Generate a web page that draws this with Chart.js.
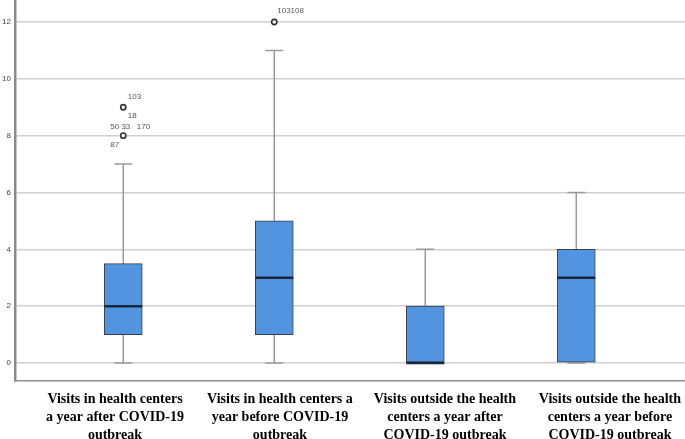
<!DOCTYPE html>
<html><head><meta charset="utf-8">
<script src="https://cdn.jsdelivr.net/npm/chart.js@4/dist/chart.umd.min.js"></script>
<style>html,body{margin:0;padding:0;background:#fff}#wrap{width:685px;height:439px;position:relative}</style>
</head><body><div id="wrap"><canvas id="c"></canvas></div>
<script>
const categories = [
  ["Visits in health centers", "a year after COVID-19", "outbreak"],
  ["Visits in health centers a", "year before COVID-19", "outbreak"],
  ["Visits outside the health", "centers a year after", "COVID-19 outbreak"],
  ["Visits outside the health", "centers a year before", "COVID-19 outbreak"]
];
const whiskerLow = [0, 0, 0, 0];
const q1 = [1, 1, 0, 0];
const median = [2, 3, 0, 3];
const q3 = [3.5, 5, 2, 4];
const whiskerHigh = [7, 11, 4, 6];
const outlierCategory = [0, 0, 1];
const outlierValues = [8, 9, 12];
const outlierLabels = [["50 33", "170", "87"], ["103", "18"], ["103108"]];
const yTicks = [0, 2, 4, 6, 8, 10, 12];

// label placement relative to outlier point (pixels)
const labelPlacement = [
  [[-13, -9], [13.5, -9], [-13, 9]],
  [[4.5, -10], [4.5, 9]],
  [[3, -11]]
];

const boxPlugin = {
  id: 'boxParts',
  beforeDatasetsDraw(chart) {
    const ctx = chart.ctx, xs = chart.scales.x, ys = chart.scales.y;
    ctx.save();
    ctx.strokeStyle = '#9a9a9a';
    ctx.lineWidth = 1.5;
    for (let i = 0; i < q1.length; i++) {
      const x = xs.getPixelForValue(i);
      const yl = ys.getPixelForValue(whiskerLow[i]);
      const yh = ys.getPixelForValue(whiskerHigh[i]);
      ctx.beginPath();
      ctx.moveTo(x, yl); ctx.lineTo(x, yh);
      ctx.moveTo(x - 9, yl); ctx.lineTo(x + 9, yl);
      ctx.moveTo(x - 9, yh); ctx.lineTo(x + 9, yh);
      ctx.stroke();
    }
    ctx.restore();
  },
  afterDatasetsDraw(chart) {
    const ctx = chart.ctx, xs = chart.scales.x, ys = chart.scales.y;
    ctx.save();
    ctx.strokeStyle = '#17263a';
    ctx.lineWidth = 2.5;
    for (let i = 0; i < median.length; i++) {
      const x = xs.getPixelForValue(i);
      const y = ys.getPixelForValue(median[i]);
      ctx.beginPath();
      ctx.moveTo(x - 19, y); ctx.lineTo(x + 19, y);
      ctx.stroke();
    }
    ctx.fillStyle = '#555';
    ctx.font = '8px "Liberation Sans", Arial, sans-serif';
    ctx.textBaseline = 'middle';
    ctx.textAlign = 'left';
    for (let k = 0; k < outlierValues.length; k++) {
      const x = xs.getPixelForValue(outlierCategory[k]);
      const y = ys.getPixelForValue(outlierValues[k]);
      outlierLabels[k].forEach((t, j) => {
        const p = labelPlacement[k][j];
        ctx.fillText(t, x + p[0], y + p[1]);
      });
    }
    ctx.restore();
  }
};

new Chart(document.getElementById('c'), {
  type: 'bar',
  data: {
    datasets: [
      {
        type: 'bar',
        data: q1.map((v, i) => ({ x: i, y: [v, q3[i]] })),
        backgroundColor: '#5394E0',
        borderColor: '#3a3f47',
        borderWidth: 1,
        borderSkipped: false,
        barThickness: 38,
        order: 2
      },
      {
        type: 'scatter',
        data: outlierValues.map((v, k) => ({ x: outlierCategory[k], y: v })),
        pointStyle: 'circle',
        pointRadius: 2.6,
        pointBorderWidth: 1.6,
        pointBorderColor: '#333',
        pointBackgroundColor: '#fff',
        showLine: false,
        order: 1
      }
    ]
  },
  plugins: [boxPlugin],
  options: {
    responsive: true,
    maintainAspectRatio: false,
    animation: false,
    layout: { padding: 0, autoPadding: false },
    plugins: { legend: { display: false }, tooltip: { enabled: false } },
    scales: {
      x: {
        type: 'linear',
        position: 'bottom',
        offset: false,
        min: -0.717,
        max: 3.72,
        afterBuildTicks: s => { s.ticks = [0, 1, 2, 3].map(v => ({ value: v })); },
        afterFit: s => { s.height = 0; s.paddingLeft = 0; s.paddingRight = 0; },
        grid: { display: false, drawTicks: false, offset: false },
        border: { display: false },
        ticks: { display: false }
      },
      x2: {
        type: 'linear',
        axis: 'x',
        position: 'bottom',
        offset: false,
        min: -0.606,
        max: 3.455,
        afterBuildTicks: s => { s.ticks = [0, 1, 2, 3].map(v => ({ value: v })); },
        afterFit: s => { s.height = 58; s.paddingLeft = 0; s.paddingRight = 0; },
        grid: { display: false, drawTicks: false, offset: false },
        border: { display: true, color: '#8f8f8f', width: 1.5 },
        ticks: {
          autoSkip: false,
          maxRotation: 0,
          minRotation: 0,
          padding: 9,
          color: '#000',
          font: { family: '"Liberation Serif", "Times New Roman", serif', size: 14, weight: 'bold', lineHeight: 1.3 },
          callback: v => categories[v]
        }
      },
      y: {
        min: -0.633,
        max: 12.774,
        afterBuildTicks: s => { s.ticks = yTicks.map(v => ({ value: v })); },
        afterFit: s => { s.width = 15; s.paddingTop = 0; s.paddingBottom = 0; },
        grid: { color: '#cfcfcf', lineWidth: 1.5, drawTicks: false },
        border: { display: true, color: '#8a8a8a', width: 2.5 },
        ticks: {
          padding: 4,
          color: '#444',
          font: { family: '"Liberation Sans", Arial, sans-serif', size: 8 }
        }
      }
    }
  }
});
</script>
</body></html>
